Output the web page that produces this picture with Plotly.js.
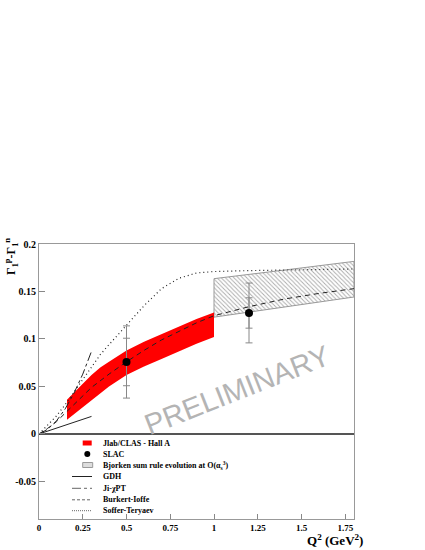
<!DOCTYPE html>
<html>
<head>
<meta charset="utf-8">
<script src="https://cdn.plot.ly/plotly-3.0.1.min.js"></script>
<style>
  body { margin: 0; background: #fff; }
  #plot { width: 425px; height: 550px; }
</style>
</head>
<body>
<div id="plot"></div>
<script>
// Jlab/CLAS - Hall A band
let arrBandQ2 = [0.16, 0.2, 0.25, 0.3, 0.35, 0.4, 0.5, 0.6, 0.7, 0.8, 0.9, 1.0];
let arrBandUp = [0.036, 0.044, 0.053, 0.062, 0.070, 0.076, 0.088, 0.097, 0.105, 0.113, 0.121, 0.128];
let arrBandLo = [0.015, 0.021, 0.028, 0.036, 0.043, 0.050, 0.062, 0.071, 0.079, 0.087, 0.095, 0.102];

// SLAC points
let arrSlacQ2 = [0.5, 1.2];
let arrSlacVal = [0.0758, 0.1274];
let arrSlacStat = [0.025, 0.016];
let arrSlacTot = [0.038, 0.0315];

// Bjorken sum rule evolution box
let arrBjQ2 = [1.0, 1.0, 1.4, 1.8, 1.8, 1.4, 1.0];
let arrBjVal = [0.123, 0.1635, 0.1725, 0.1817, 0.1442, 0.1335, 0.123];

// GDH slope
let arrGdhQ2 = [0, 0.3];
let arrGdhVal = [0, 0.0185];

// Ji chiPT
let arrJiQ2 = [0, 0.05, 0.1, 0.15, 0.2, 0.25, 0.3];
let arrJiVal = [0, 0.005, 0.0138, 0.0265, 0.043, 0.063, 0.087];

// Burkert-Ioffe
let arrBiQ2 = [0, 0.05, 0.1, 0.15, 0.2, 0.25, 0.3, 0.4, 0.5, 0.6, 0.7, 0.8, 0.9, 1.0, 1.2, 1.4, 1.6, 1.8];
let arrBiVal = [0, 0.006, 0.013, 0.022, 0.031, 0.040, 0.049, 0.063, 0.076, 0.088, 0.099, 0.108, 0.117, 0.1245, 0.134, 0.142, 0.148, 0.153];

// Soffer-Teryaev
let arrStQ2 = [0, 0.05, 0.1, 0.15, 0.2, 0.25, 0.3, 0.35, 0.4, 0.5, 0.6, 0.7, 0.8, 0.9, 1.0, 1.2, 1.4, 1.6, 1.8];
let arrStVal = [0, 0.009, 0.019, 0.031, 0.044, 0.057, 0.070, 0.0835, 0.094, 0.114, 0.135, 0.153, 0.164, 0.1695, 0.171, 0.172, 0.1728, 0.1733, 0.1737];

// tick labels
let arrXTicks = [0, 0.25, 0.5, 0.75, 1, 1.25, 1.5, 1.75];
let arrXTickText = ["0", "0.25", "0.5", "0.75", "1", "1.25", "1.5", "1.75"];
let arrYTicks = [-0.05, 0, 0.05, 0.1, 0.15, 0.2];
let arrYTickText = ["-0.05", "0", "0.05", "0.1", "0.15", "0.2"];

// legend labels
let arrLegend = ["Jlab/CLAS - Hall A", "SLAC", "Bjorken sum rule evolution at O(\u03b1<sub>s</sub><sup>3</sup>)",
  "GDH", "Ji-\u03c7PT", "Burkert-Ioffe", "Soffer-Teryaev"];

let serif = "Liberation Serif, Times New Roman, serif";

// plot area in pixels: l=39, r=354, t=244, b=519
function px(x) { return (x - 39) / 315; }
function py(y) { return (519 - y) / 275; }

let traces = [
  {x: arrBjQ2, y: arrBjVal, mode: "lines", fill: "toself", fillcolor: "#fff",
   fillpattern: {shape: "\\", fgcolor: "#aaa", bgcolor: "#fff", size: 3, solidity: 0.3},
   line: {color: "#999", width: 1}},
  {x: arrBandQ2, y: arrBandLo, mode: "lines", line: {width: 0, color: "red"}},
  {x: arrBandQ2, y: arrBandUp, mode: "lines", fill: "tonexty", fillcolor: "#ff0000", line: {width: 0, color: "red"}},
  {x: arrGdhQ2, y: arrGdhVal, mode: "lines", line: {color: "#222", width: 1}},
  {x: arrJiQ2, y: arrJiVal, mode: "lines", line: {color: "#222", width: 1, dash: "dashdot"}},
  {x: arrBiQ2, y: arrBiVal, mode: "lines", line: {color: "#222", width: 1, dash: "5px,4px"}},
  {x: arrStQ2, y: arrStVal, mode: "lines", line: {color: "#222", width: 1.2, dash: "1px,3px"}},
  {x: arrSlacQ2, y: arrSlacVal, mode: "markers", marker: {size: 0.1, color: "rgba(0,0,0,0)"},
   error_y: {type: "data", array: arrSlacTot, color: "#888", thickness: 1, width: 3.5}},
  {x: arrSlacQ2, y: arrSlacVal, mode: "markers", marker: {size: 8, color: "black"},
   error_y: {type: "data", array: arrSlacStat, color: "#888", thickness: 1, width: 3.5}}
];

// manual legend
let shapes = [];
let annotations = [];
let rowY = [443.5, 454, 465, 476.5, 488.3, 499.8, 510.7];
arrLegend.forEach((str, i) => {
  annotations.push({xref: "paper", yref: "paper", x: px(101), y: py(rowY[i]), xanchor: "left", yanchor: "middle",
    text: str, showarrow: false, font: {family: serif, size: 8, color: "black", weight: "bold"}});
});
shapes.push({type: "rect", xref: "paper", yref: "paper", x0: px(82.7), x1: px(91.7), y0: py(445.5), y1: py(440.5),
  fillcolor: "red", line: {width: 0}});
shapes.push({type: "circle", xref: "paper", yref: "paper", x0: px(84.3), x1: px(90.3), y0: py(457), y1: py(451),
  fillcolor: "black", line: {width: 0}});
shapes.push({type: "rect", xref: "paper", yref: "paper", x0: px(82.7), x1: px(92.7), y0: py(467.5), y1: py(462.5),
  fillcolor: "#ddd", line: {width: 1, color: "#999"}});
let arrDash = ["solid", "dashdot", "3px,2px", "1px,1px"];
arrDash.forEach((d, i) => {
  shapes.push({type: "line", xref: "paper", yref: "paper", x0: px(72), x1: px(92), y0: py(rowY[i + 3]), y1: py(rowY[i + 3]),
    line: {color: i == 0 ? "#222" : "#666", width: 1, dash: d}});
});

// titles and watermark
annotations.push({xref: "paper", yref: "paper", x: px(11), y: py(257), xanchor: "center", yanchor: "middle",
  textangle: -90, showarrow: false,
  text: "\u0393<sub>1</sub><sup>p</sup>-\u0393<sub>1</sub><sup>n</sup>", font: {family: serif, size: 12, weight: "bold", color: "black"}});
annotations.push({xref: "paper", yref: "paper", x: px(365), y: py(550), xanchor: "right", yanchor: "bottom", showarrow: false,
  text: "Q<sup>2</sup> (GeV<sup>2</sup>)", font: {family: serif, size: 13, weight: "bold", color: "black"}});
annotations.push({xref: "paper", yref: "paper", x: px(237), y: py(390), xanchor: "center", yanchor: "middle",
  textangle: -21.5, showarrow: false,
  text: "PRELIMINARY", font: {family: "Liberation Sans, Arial, sans-serif", size: 29, color: "#b4b4b4"}});

let layout = {
  width: 425, height: 550,
  margin: {l: 39, r: 71, t: 244, b: 31},
  paper_bgcolor: "#fff", plot_bgcolor: "#fff",
  showlegend: false,
  xaxis: {range: [0, 1.8], tickvals: arrXTicks, ticktext: arrXTickText, ticks: "inside", ticklen: 5,
    tickcolor: "#888", showline: true, linecolor: "#999", mirror: true, showgrid: false, zeroline: false,
    tickfont: {family: serif, size: 9, weight: "bold", color: "black"}},
  yaxis: {range: [-0.0895, 0.2], tickvals: arrYTicks, ticktext: arrYTickText, ticks: "inside", ticklen: 6,
    tickcolor: "#888", showline: true, linecolor: "#999", mirror: true, showgrid: false,
    zeroline: true, zerolinecolor: "#555", zerolinewidth: 1.5,
    tickfont: {family: serif, size: 10, weight: "bold", color: "black"}},
  shapes: shapes,
  annotations: annotations
};

Plotly.newPlot("plot", traces, layout, {staticPlot: true});
</script>
</body>
</html>
